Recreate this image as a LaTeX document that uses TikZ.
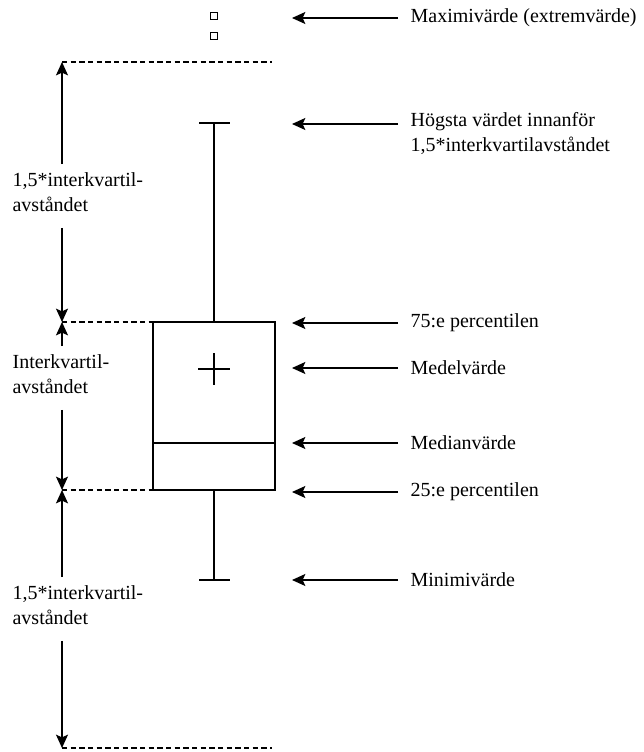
\documentclass[tikz,border=0pt]{standalone}
\usepackage{fontspec}
\setmainfont{Liberation Serif}
\usetikzlibrary{arrows.meta}

\begin{document}
\begin{tikzpicture}[x=0.75pt, y=-0.75pt, line width=0.9pt,
	pil/.style={-{Stealth[length=10pt, width=9pt, inset=2pt]}},
	hpil/.style={pil, shorten <=9pt},
	npil/.style={pil, shorten <=6pt},
	streck/.style={dashed, dash pattern=on 4pt off 2.5pt, line width=0.8pt},
	etikett/.style={anchor=west, inner sep=0pt, font=\fontsize{15}{18.5}\selectfont, align=left},
	vetikett/.style={etikett, inner ysep=6pt}]
	\useasboundingbox (0,0) rectangle (643,752);
	
	% lådan med morrhår
	\draw (153,322) rectangle (275,490);
	\draw (153,443) -- (275,443);
	\draw (214,322) -- (214,123) (199,123) -- (230,123);
	\draw (214,490) -- (214,580) (199,580) -- (230,580);
	\draw (198,369) -- (230,369) (214,353) -- (214,385);
	\draw[line width=0.7pt] (210,12) rectangle (217,19) (210,32) rectangle (217,39);
	
	% streckade hjälplinjer
	\coordinate (topp) at (62,62);
	\coordinate (q3v) at (62,322);
	\coordinate (q1v) at (62,490);
	\coordinate (botten) at (62,748);
	\draw[streck] (topp) -- (272,62);
	\draw[streck] (q3v) -- (153,322);
	\draw[streck] (q1v) -- (153,490);
	\draw[streck] (botten) -- (272,748);
	
	% vänster sida
	\node[vetikett] (ovre) at (12,192) {1,5*interkvartil-\\avståndet};
	\node[vetikett] (mitt) at (12,374) {Interkvartil-\\avståndet};
	\node[vetikett] (nedre) at (12,605) {1,5*interkvartil-\\avståndet};
	\draw[pil] (ovre.north -| topp) -- (topp);
	\draw[npil] (ovre.south -| q3v) -- (q3v);
	\draw[pil] (mitt.north -| q3v) -- (q3v);
	\draw[npil] (mitt.south -| q1v) -- (q1v);
	\draw[pil] (nedre.north -| q1v) -- (q1v);
	\draw[npil] (nedre.south -| botten) -- (botten);
	
	% höger sida
	\coordinate (maxpil) at (292,18);
	\coordinate (hogpil) at (292,124);
	\coordinate (q3pil) at (292,323);
	\coordinate (medelpil) at (292,368);
	\coordinate (medianpil) at (292,443);
	\coordinate (q1pil) at (292,492);
	\coordinate (minpil) at (292,580);
	\node[etikett] (max) at (410,18) {Maximivärde (extremvärde)};
	\node[etikett, anchor=north west] (hogst) at (410,112) {Högsta värdet innanför\\1,5*interkvartilavståndet};
	\node[etikett] (q3) at (410,323) {75:e percentilen};
	\node[etikett] (medel) at (410,368) {Medelvärde};
	\node[etikett] (median) at (410,443) {Medianvärde};
	\node[etikett] (q1) at (410,492) {25:e percentilen};
	\node[etikett] (min) at (410,580) {Minimivärde};
	\draw[hpil] (max.west) -- (maxpil);
	\draw[hpil] (hogst.west |- hogpil) -- (hogpil);
	\draw[hpil] (q3.west) -- (q3pil);
	\draw[hpil] (medel.west) -- (medelpil);
	\draw[hpil] (median.west) -- (medianpil);
	\draw[hpil] (q1.west) -- (q1pil);
	\draw[hpil] (min.west) -- (minpil);
\end{tikzpicture}
\end{document}
